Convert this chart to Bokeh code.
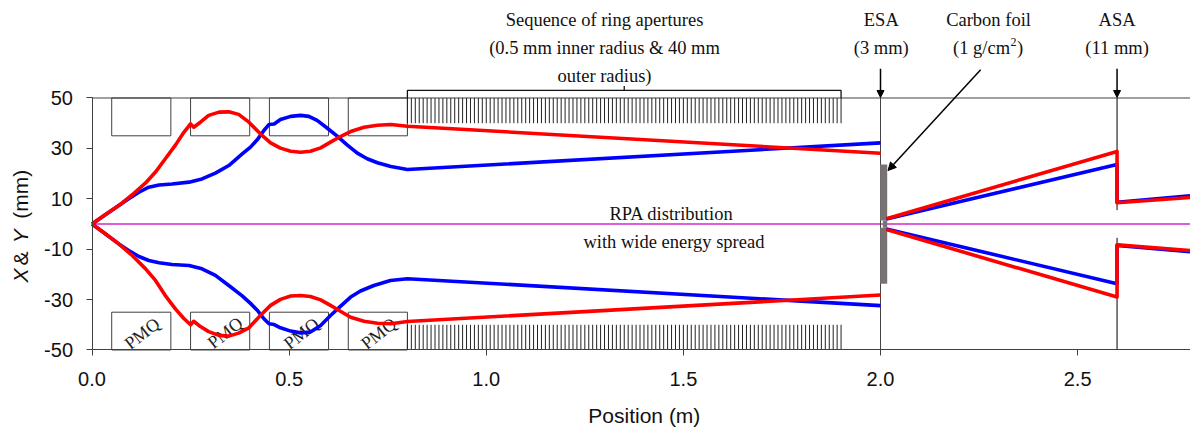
from bokeh.embed import file_html
from bokeh.resources import INLINE
from bokeh.plotting import figure
from bokeh.models import Arrow, FixedTicker, NormalHead
from bokeh.core.properties import value

# ---- data (position in m, envelope in mm) ----
blue_up_x = [0, .068, .093, .119, .144, .17, .203, .246, .279, .313, .347, .381, .402, .419, .436, .449, .462, .478, .504, .529, .55, .571, .597, .622, .647, .673, .698, .724, .758, .80, 2.0]
blue_up_y = [0, 7.3, 10, 12.6, 14.6, 15.5, 15.9, 16.6, 17.9, 20.2, 23.2, 27.8, 30.5, 33.4, 37.1, 39.5, 39.7, 41.5, 42.7, 43.1, 42.7, 41.1, 38, 34.9, 31.4, 28.1, 25.9, 24.3, 22.8, 21.6, 32.2]
red_up_x = [0, .034, .068, .102, .136, .161, .186, .212, .233, .25, .258, .275, .296, .322, .347, .372, .398, .427, .453, .478, .504, .529, .554, .58, .605, .63, .656, .69, .724, .758, .80, 2.0]
red_up_y = [0, 3.8, 7.3, 11.6, 16.3, 20.6, 25.9, 31.4, 36.4, 39.7, 38.4, 40.4, 43.1, 44.4, 44.5, 43.5, 40.4, 35.8, 32.2, 30.1, 28.9, 28.5, 28.9, 30.2, 32.5, 34.7, 36.7, 38.4, 39.2, 39.5, 38.8, 28.1]
blue_lo_x = [0, .068, .093, .119, .144, .17, .203, .246, .279, .313, .347, .381, .402, .419, .436, .449, .462, .478, .504, .529, .554, .58, .605, .63, .656, .681, .715, .757, .80, 2.0]
blue_lo_y = [0, -7.9, -10.5, -12.9, -14.5, -15.4, -16.1, -16.5, -17.8, -20.4, -24.4, -28.5, -31.5, -34.2, -37.6, -39.6, -39.9, -41.2, -42.5, -43.2, -42.9, -40.3, -36.3, -32.7, -29, -26.6, -24.4, -22.4, -21.7, -32.4]
red_lo_x = [0, .034, .068, .102, .136, .161, .186, .212, .233, .25, .258, .275, .296, .322, .347, .372, .398, .427, .453, .478, .504, .529, .554, .58, .605, .63, .656, .69, .724, .758, .80, 2.0]
red_lo_y = [0, -3.9, -7.9, -12.5, -17.8, -22.4, -28.4, -33.8, -37.5, -40, -38.6, -40.7, -42.7, -44.2, -44.5, -43.3, -41.2, -36.3, -32.3, -29.9, -28.6, -28.4, -28.8, -30.1, -32.3, -34.6, -37, -38.6, -39.4, -39.6, -38.7, -28.2]

after_x = [2.015, 2.6, 2.6, 2.8]
blue_after_up = [2.0, 23.6, 8.6, 11.4]
red_after_up = [2.1, 28.8, 8.4, 10.7]
blue_after_lo = [-2.0, -23.7, -8.5, -11.2]
red_after_lo = [-2.2, -29, -8.3, -10.7]

pmq_left = [.05, .25, .45, .65]
pmq_right = [.20, .40, .60, .80]
pmq_label_x = [.127, .338, .531, .727]
pmq_label_y = [-43.5, -43.2, -43.5, -43.5]
ring_count = 111
ring_start = 0.8
ring_step = 0.01
x_ticks = [0, 0.5, 1.0, 1.5, 2.0, 2.5]
x_tick_labels = ["0.0", "0.5", "1.0", "1.5", "2.0", "2.5"]
y_ticks = [50, 30, 10, -10, -30, -50]
y_tick_labels = ["50", "30", "10", "-10", "-30", "-50"]

SERIF = value("Liberation Serif")
SANS = value("Liberation Sans")
BLUE, RED = "#0000ff", "#ff0000"
AXIS = "#404040"
INK = "#111111"

p = figure(width=1190, height=429, output_backend="svg", toolbar_location=None,
           x_range=(-0.2321, 2.7863), y_range=(-81.55, 88.69),
           min_border_left=0, min_border_right=0, min_border_top=0, min_border_bottom=0)
p.grid.visible = False
p.outline_line_color = None
p.background_fill_color = "white"

# axes
for ax, ticks, labels in ((p.xaxis[0], x_ticks, x_tick_labels), (p.yaxis[0], y_ticks, y_tick_labels)):
    ax.ticker = FixedTicker(ticks=ticks)
    ax.major_label_overrides = dict(zip(ticks, labels))
    ax.minor_tick_line_color = None
    ax.major_tick_in = 0
    ax.major_tick_out = 6
    ax.axis_line_color = AXIS
    ax.major_tick_line_color = AXIS
    ax.major_label_text_font = "Liberation Sans"
    ax.major_label_text_font_size = "20px"
    ax.major_label_text_color = INK
p.yaxis[0].fixed_location = 0
p.yaxis[0].bounds = (-50, 50)
p.yaxis[0].major_label_standoff = 13
p.xaxis[0].fixed_location = -50
p.xaxis[0].bounds = (0, 2.8)
p.xaxis[0].major_label_standoff = 16

# top frame line, centre line
p.segment(x0=[0], y0=[50], x1=[2.8], y1=[50], line_color=AXIS, line_width=1)
p.segment(x0=[0], y0=[0], x1=[2.8], y1=[0], line_color="#d028d0", line_width=1.5)

# lenses
for sign in (1, -1):
    p.quad(left=pmq_left, right=pmq_right, bottom=[min(sign*35, sign*50)]*4, top=[max(sign*35, sign*50)]*4,
           fill_color=None, line_color=AXIS, line_width=1)
p.text(x=pmq_label_x, y=pmq_label_y, text=["PMQ"]*4, angle=38, angle_units="deg", text_font=SERIF,
       text_font_size="18px", text_align="center", text_baseline="middle", text_color="#222222")

# rings
rings = [ring_start + i*ring_step for i in range(ring_count)]
p.segment(x0=rings, y0=[40]*ring_count, x1=rings, y1=[50]*ring_count, line_color="#222222", line_width=1)
p.segment(x0=rings, y0=[-40]*ring_count, x1=rings, y1=[-50]*ring_count, line_color="#222222", line_width=1)

# ESA / ASA walls
p.segment(x0=[2.0], y0=[-50], x1=[2.0], y1=[50], line_color="#444444", line_width=1)
p.segment(x0=[2.6, 2.6], y0=[50, -5.5], x1=[2.6, 2.6], y1=[5.5, -50], line_color="#000000", line_width=1)

# foil
p.quad(left=[1.999, 1.999, 2.006], right=[2.017, 2.017, 2.017], bottom=[1.4, -23.7, -1.5], top=[23.6, -1.5, 1.4],
       fill_color="#787272", line_color=None)

# beams
for xs, ys, c in ((blue_up_x, blue_up_y, BLUE), (blue_lo_x, blue_lo_y, BLUE), (after_x, blue_after_up, BLUE), (after_x, blue_after_lo, BLUE),
                  (red_up_x, red_up_y, RED), (red_lo_x, red_lo_y, RED), (after_x, red_after_up, RED), (after_x, red_after_lo, RED)):
    p.line(xs, ys, line_color=c, line_width=3.6, line_join="round")

# bracket
p.line([0.8, 0.8, 1.9, 1.9], [50, 53, 53, 50], line_color=INK, line_width=1.3)
p.segment(x0=[1.35], y0=[53], x1=[1.35], y1=[54.8], line_color=INK, line_width=1.3)

# arrows
for xs, ys, xe, ye, size in ((2.0, 61.6, 2.0, 50.2, 7), (2.6, 61.6, 2.6, 50.2, 7), (2.254, 61.2, 2.019, 21.2, 8)):
    p.add_layout(Arrow(x_start=xs, y_start=ys, x_end=xe, y_end=ye,
                       end=NormalHead(size=size, fill_color="black", line_color="black"),
                       line_color="black", line_width=1.5))

# serif annotations
ann_x = [1.30, 1.30, 1.30, 2.002, 2.002, 2.274, 2.6, 2.6, 1.47, 1.476]
ann_y = [81.1, 70.0, 58.9, 81.1, 70.0, 81.1, 81.1, 70.0, 3.8, -7.3]
ann_t = ["Sequence of ring apertures", "(0.5 mm inner radius & 40 mm", "outer radius)", "ESA", "(3 mm)", "Carbon foil",
         "ASA", "(11 mm)", "RPA distribution", "with wide energy spread"]
p.text(x=ann_x, y=ann_y, text=ann_t, text_font=SERIF, text_font_size="18.5px", text_align="center",
       text_baseline="middle", text_color=INK)
p.text(x=[2.184], y=[70.0], text=["(1 g/cm"], text_font=SERIF, text_font_size="18.5px", text_align="left",
       text_baseline="middle", text_color=INK)
p.text(x=[2.33], y=[72.2], text=["2"], text_font=SERIF, text_font_size="12px", text_align="left",
       text_baseline="middle", text_color=INK)
p.text(x=[2.346], y=[70.0], text=[")"], text_font=SERIF, text_font_size="18.5px", text_align="left",
       text_baseline="middle", text_color=INK)

# axis titles
p.text(x=[1.401], y=[-76.0], text=["Position (m)"], text_font=SANS, text_font_size="21px", text_align="center",
       text_baseline="middle", text_color=INK)
for txt, yy, style in (("X", -23.2, "italic"), ("&", -16.5, "normal"), ("Y", -7.6, "italic"), ("(mm)", 2.1, "normal")):
    p.text(x=[-0.181], y=[yy], text=[txt], angle=90, angle_units="deg", text_font=SANS, text_font_style=style,
           text_font_size="21px", text_align="left", text_baseline="middle", text_color=INK)

open("out.html", "w").write(file_html(p, INLINE))
